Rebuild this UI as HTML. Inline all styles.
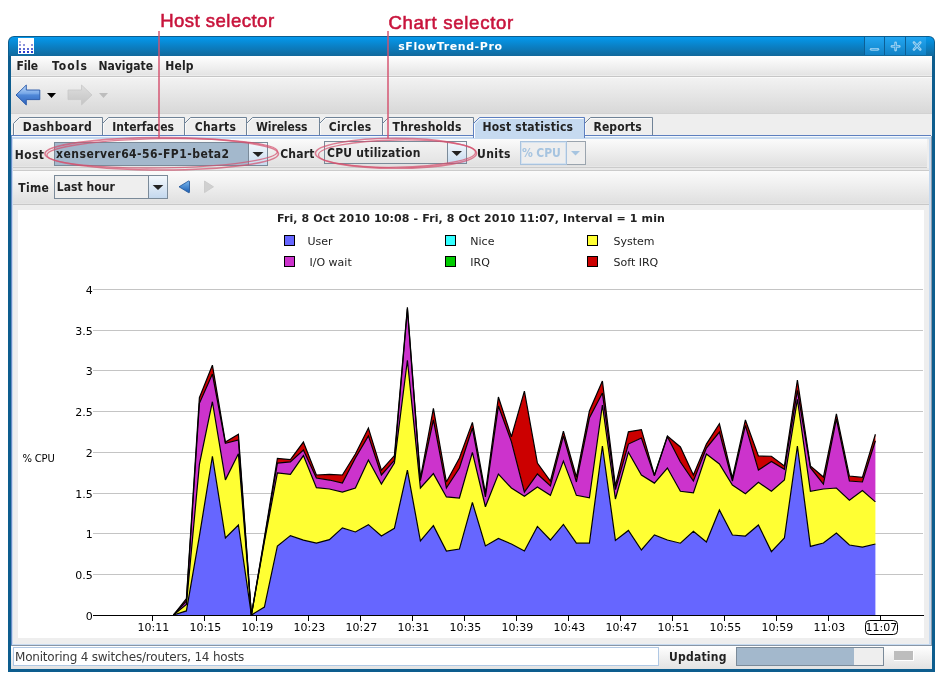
<!DOCTYPE html>
<html><head><meta charset="utf-8"><style>
*{margin:0;padding:0;box-sizing:border-box}
html,body{width:944px;height:680px;overflow:hidden;background:#fff}
body{position:relative;font-family:"DejaVu Sans","Liberation Sans",sans-serif}
.a{position:absolute}
.b{font-weight:bold;font-size:11px;color:#222;white-space:nowrap;line-height:13px}
.win{left:8px;top:36px;width:927px;height:636px;background:#0d5d8e;border-radius:6px 6px 0 0}
.title{left:9px;top:37px;width:925px;height:19px;border-radius:5px 5px 0 0;background:linear-gradient(#0499ed,#0a82c8 45%,#11699c)}
.content{left:11px;top:56px;width:921px;height:613px;background:#eeeeee}
.menubar{left:11px;top:56px;width:921px;height:19px;background:linear-gradient(#ffffff,#e4e4e4)}
.toolbar{left:11px;top:78px;width:921px;height:35px;background:linear-gradient(#f2f2f2,#d8d8d8)}
.tab{top:117px;height:19px;background:#eeeeee;border:1px solid #8a9cb4;border-bottom:none;clip-path:polygon(0 6px,6px 0,100% 0,100% 100%,0 100%)}
.tab span{position:absolute;top:3px}
.tabsel{background:#c8dcf2;border-color:#7e9ccc}
.panel{left:11px;top:135px;width:920px;height:510px;background:#c6daf0;border-top:1px solid #5d7fbf;border-left:1px solid #6a8cc6}
.row{background:linear-gradient(#fbfbfb,#e0e0e0)}
.combo{border:1px solid #7a8a99}
.chart{position:absolute;left:18px;top:210px}
</style></head><body>
<div id="root" style="position:absolute;left:0;top:0;width:944px;height:680px;will-change:transform">
<div class="a win"></div>
<div class="a title"></div>
<!-- app icon -->
<div class="a" style="left:18px;top:38px;width:16px;height:16px;background:#fff">
<svg width="16" height="16" style="position:absolute;left:0;top:0">
<g fill="#2b3fcf"><rect x="1" y="13" width="2" height="2"/><rect x="5" y="13" width="2" height="2"/><rect x="9" y="13" width="2" height="2"/><rect x="13" y="13" width="2" height="2"/></g>
<g fill="#5a6ad0"><rect x="1" y="10" width="2" height="2"/><rect x="5" y="10" width="2" height="2"/><rect x="9" y="10" width="2" height="2"/><rect x="13" y="10" width="2" height="2"/></g>
<g fill="#8e96dc"><rect x="1" y="6" width="2" height="2"/><rect x="5" y="6" width="2" height="2"/><rect x="13" y="6" width="2" height="2"/></g>
<g fill="#b8bce6"><rect x="1" y="3" width="2" height="2"/></g>
</svg></div>
<!-- title buttons -->
<div class="a" style="left:864px;top:37px;width:62px;height:18px;background:#0c5f95"></div>
<div class="a" style="left:865px;top:37px;width:19px;height:18px;background:linear-gradient(#22a6f2,#1282c6)"></div>
<div class="a" style="left:885px;top:37px;width:20px;height:18px;background:linear-gradient(#22a6f2,#1282c6)"></div>
<div class="a" style="left:906px;top:37px;width:20px;height:18px;background:linear-gradient(#22a6f2,#1282c6)"></div>
<svg class="a" style="left:864px;top:37px" width="62" height="18">
<g stroke="#98cff0" stroke-width="2.8" stroke-linecap="round" fill="none">
<line x1="7.2" y1="12.3" x2="13.8" y2="12.3"/>
<line x1="31.6" y1="5.8" x2="31.6" y2="13"/><line x1="28" y1="9.4" x2="35.2" y2="9.4"/>
<line x1="50" y1="5.6" x2="56.2" y2="12.4"/><line x1="56.2" y1="5.6" x2="50" y2="12.4"/>
</g>
<g stroke="#3aa2e4" stroke-width="0.9" stroke-linecap="round" fill="none">
<line x1="7.8" y1="12.3" x2="13.2" y2="12.3"/>
<line x1="31.6" y1="6.6" x2="31.6" y2="12.2"/><line x1="28.8" y1="9.4" x2="34.4" y2="9.4"/>
<line x1="50.6" y1="6.3" x2="55.6" y2="11.7"/><line x1="55.6" y1="6.3" x2="50.6" y2="11.7"/>
</g></svg>

<div class="a content"></div>
<div class="a menubar"></div>
<div class="a" style="left:11px;top:75px;width:921px;height:1px;background:#ececec"></div>
<div class="a" style="left:11px;top:76px;width:921px;height:1px;background:#c6c6c6"></div>
<div class="a" style="left:11px;top:77px;width:921px;height:1px;background:#fafafa"></div>
<div class="a toolbar"></div>
<div class="a" style="left:11px;top:113px;width:921px;height:1px;background:#d2d2d2"></div>
<!-- toolbar icons -->
<svg class="a" style="left:12px;top:80px" width="100" height="30">
<defs><linearGradient id="gb" x1="0" y1="0" x2="0" y2="1"><stop offset="0" stop-color="#c0dafa"/><stop offset="0.42" stop-color="#78a8e8"/><stop offset="0.5" stop-color="#5088d8"/><stop offset="1" stop-color="#2c62bc"/></linearGradient>
<linearGradient id="gg" x1="0" y1="0" x2="0" y2="1"><stop offset="0" stop-color="#dedede"/><stop offset="1" stop-color="#c4c4c4"/></linearGradient></defs>
<path d="M4 15 L14.3 5 L14.3 10 L27.8 10 L27.8 19.6 L14.3 19.6 L14.3 25 Z" fill="url(#gb)" stroke="#2456a8" stroke-width="0.9"/>
<path d="M35 13 L44 13 L39.5 18 Z" fill="#000"/>
<path d="M80 15 L69.5 5 L69.5 10 L56 10 L56 19.6 L69.5 19.6 L69.5 25 Z" fill="url(#gg)" stroke="#c8c8c8" stroke-width="0.8"/>
<path d="M87 13 L96 13 L91.5 18 Z" fill="#bdbdbd"/>
</svg>

<!-- tabs -->
<svg class="a" style="left:0;top:110px" width="700" height="32">
<path d="M13.5 25.5 V13.5 L19.5 7.5 H102.5 V25.5" fill="#eeeeee" stroke="#6f8296" stroke-width="1"/>
<path d="M14.5 25 V13.9 L19.9 8.5 H101.5" fill="none" stroke="#fafafa" stroke-width="1"/>
<path d="M102.5 25.5 V13.5 L108.5 7.5 H184.5 V25.5" fill="#eeeeee" stroke="#6f8296" stroke-width="1"/>
<path d="M103.5 25 V13.9 L108.9 8.5 H183.5" fill="none" stroke="#fafafa" stroke-width="1"/>
<path d="M184.5 25.5 V13.5 L190.5 7.5 H246.5 V25.5" fill="#eeeeee" stroke="#6f8296" stroke-width="1"/>
<path d="M185.5 25 V13.9 L190.9 8.5 H245.5" fill="none" stroke="#fafafa" stroke-width="1"/>
<path d="M246.5 25.5 V13.5 L252.5 7.5 H319.5 V25.5" fill="#eeeeee" stroke="#6f8296" stroke-width="1"/>
<path d="M247.5 25 V13.9 L252.9 8.5 H318.5" fill="none" stroke="#fafafa" stroke-width="1"/>
<path d="M319.5 25.5 V13.5 L325.5 7.5 H382.5 V25.5" fill="#eeeeee" stroke="#6f8296" stroke-width="1"/>
<path d="M320.5 25 V13.9 L325.9 8.5 H381.5" fill="none" stroke="#fafafa" stroke-width="1"/>
<path d="M382.5 25.5 V13.5 L388.5 7.5 H473.5 V25.5" fill="#eeeeee" stroke="#6f8296" stroke-width="1"/>
<path d="M383.5 25 V13.9 L388.9 8.5 H472.5" fill="none" stroke="#fafafa" stroke-width="1"/>
<path d="M584.5 25.5 V13.5 L590.5 7.5 H652.5 V25.5" fill="#eeeeee" stroke="#6f8296" stroke-width="1"/>
<path d="M585.5 25 V13.9 L590.9 8.5 H651.5" fill="none" stroke="#fafafa" stroke-width="1"/>
</svg>
<div class="a panel"></div>
<div class="a" style="left:12px;top:136px;width:919px;height:1px;background:#f4f8fc"></div>
<div class="a" style="left:13px;top:139px;width:916px;height:505px;background:#eeeeee"></div>
<svg class="a" style="left:0;top:110px" width="700" height="32">
<path d="M473.5 28 V13.5 L479.5 7.5 H584.5 V28" fill="#c6daf0" stroke="#5d7fbf" stroke-width="1"/>
<path d="M474.5 28 V13.9 L479.9 8.5 H583.5" fill="none" stroke="#ffffff" stroke-width="1"/>
</svg>
<!-- host row -->
<div class="a row" style="left:13px;top:139px;width:914px;height:27px"></div>
<div class="a" style="left:13px;top:166px;width:914px;height:1px;background:#e6e6e6"></div>
<div class="a" style="left:13px;top:167px;width:914px;height:1px;background:#cbcbcb"></div>
<div class="a" style="left:13px;top:168px;width:916px;height:2px;background:#e8e8e8"></div>
<div class="a" style="left:13px;top:170px;width:916px;height:1px;background:#cbcbcb"></div>
<div class="a row" style="left:13px;top:171px;width:916px;height:32px"></div>
<div class="a" style="left:13px;top:203px;width:916px;height:1px;background:#e4e4e4"></div>
<div class="a" style="left:13px;top:204px;width:916px;height:1px;background:#c8c8c8"></div>

<div class="a combo" style="left:54px;top:142px;width:214px;height:24px;background:#a3b8cc"></div>
<div class="a" style="left:248px;top:142px;width:1px;height:24px;background:#7a8a99"></div>
<div class="a" style="left:249px;top:143px;width:18px;height:22px;background:linear-gradient(#f4f8fc,#c8dcf0)"></div>
<svg class="a" style="left:249px;top:143px" width="18" height="22"><path d="M3.5 9 L14.5 9 L9 14 Z" fill="#222"/></svg>

<div class="a combo" style="left:324px;top:141px;width:143px;height:23px;background:linear-gradient(#f2f2f2,#e4e4e4)"></div>
<div class="a" style="left:447px;top:141px;width:1px;height:23px;background:#7a8a99"></div>
<div class="a" style="left:448px;top:142px;width:18px;height:21px;background:linear-gradient(#f4f8fc,#c8dcf0)"></div>
<svg class="a" style="left:448px;top:142px" width="18" height="22"><path d="M3.5 9 L14 9 L8.75 14 Z" fill="#222"/></svg>

<div class="a" style="left:520px;top:141px;width:66px;height:24px;border:1px solid #9aa4ae;background:#eeeeee"></div>
<div class="a" style="left:520px;top:141px;width:47px;height:24px;border:1px solid #a9c3de"></div>
<div class="a" style="left:521px;top:142px;width:45px;height:22px;border:1px solid #d4e2f0"></div>
<svg class="a" style="left:567px;top:142px" width="18" height="22"><path d="M4 9 L13 9 L8.5 13.5 Z" fill="#a6c4e0"/></svg>

<!-- time row -->
<div class="a combo" style="left:54px;top:175px;width:114px;height:24px;background:#eeeeee"></div>
<div class="a" style="left:148px;top:175px;width:1px;height:24px;background:#7a8a99"></div>
<div class="a" style="left:149px;top:176px;width:18px;height:22px;background:linear-gradient(#f4f8fc,#c4d8ee)"></div>
<svg class="a" style="left:149px;top:176px" width="18" height="22"><path d="M3.7 9 L14.3 9 L9 14 Z" fill="#222"/></svg>
<svg class="a" style="left:176px;top:179px" width="42" height="16">
<defs><linearGradient id="gt" x1="0" y1="0" x2="0" y2="1"><stop offset="0" stop-color="#7ab8f0"/><stop offset="1" stop-color="#1a5cb0"/></linearGradient></defs>
<path d="M3 7.8 L12.5 2 Q13.5 1.6 13.5 3 L13.5 12.8 Q13.5 14.2 12.5 13.6 Z" fill="url(#gt)" stroke="#1a4f94" stroke-width="0.8"/>
<path d="M37.5 7.8 L28.5 2 L28.5 13.6 Z" fill="#d0d0d0" stroke="#c8c8c8" stroke-width="0.8"/>
</svg>

<svg class="chart" width="906" height="428" viewBox="18 210 906 428">
<rect x="18" y="210" width="906" height="428" fill="#fff"/>
<rect x="93" y="289" width="830" height="1" fill="#c4c4c4"/><rect x="93" y="330" width="830" height="1" fill="#c4c4c4"/><rect x="93" y="370" width="830" height="1" fill="#c4c4c4"/><rect x="93" y="411" width="830" height="1" fill="#c4c4c4"/><rect x="93" y="452" width="830" height="1" fill="#c4c4c4"/><rect x="93" y="493" width="830" height="1" fill="#c4c4c4"/><rect x="93" y="533" width="830" height="1" fill="#c4c4c4"/><rect x="93" y="574" width="830" height="1" fill="#c4c4c4"/>
<g><polygon points="173.40,615.00 186.40,610.93 199.40,536.04 212.40,456.27 225.40,538.00 238.40,524.97 251.40,615.00 264.40,607.02 277.40,545.97 290.40,535.63 303.40,540.11 316.40,543.04 329.40,539.62 342.40,527.90 355.40,531.97 368.40,524.65 381.40,536.04 394.40,528.39 407.40,470.11 420.40,541.01 433.40,525.62 446.40,551.02 459.40,549.07 472.40,502.42 485.40,545.97 498.40,538.48 511.40,544.02 524.40,551.02 537.40,526.44 550.40,540.03 563.40,524.40 576.40,543.21 589.40,543.21 602.40,446.01 615.40,540.44 628.40,530.43 641.40,549.96 654.40,534.98 667.40,540.03 680.40,543.21 693.40,531.40 706.40,541.98 719.40,509.99 732.40,534.98 745.40,536.04 758.40,524.97 771.40,551.59 784.40,538.00 797.40,446.01 810.40,546.38 823.40,543.04 836.40,533.03 849.40,545.00 862.40,547.03 875.40,544.02 875.40,615.00 862.40,615.00 849.40,615.00 836.40,615.00 823.40,615.00 810.40,615.00 797.40,615.00 784.40,615.00 771.40,615.00 758.40,615.00 745.40,615.00 732.40,615.00 719.40,615.00 706.40,615.00 693.40,615.00 680.40,615.00 667.40,615.00 654.40,615.00 641.40,615.00 628.40,615.00 615.40,615.00 602.40,615.00 589.40,615.00 576.40,615.00 563.40,615.00 550.40,615.00 537.40,615.00 524.40,615.00 511.40,615.00 498.40,615.00 485.40,615.00 472.40,615.00 459.40,615.00 446.40,615.00 433.40,615.00 420.40,615.00 407.40,615.00 394.40,615.00 381.40,615.00 368.40,615.00 355.40,615.00 342.40,615.00 329.40,615.00 316.40,615.00 303.40,615.00 290.40,615.00 277.40,615.00 264.40,615.00 251.40,615.00 238.40,615.00 225.40,615.00 212.40,615.00 199.40,615.00 186.40,615.00 173.40,615.00" fill="#6666ff"/><polygon points="173.40,615.00 186.40,604.42 199.40,464.41 212.40,401.73 225.40,479.88 238.40,453.83 251.40,615.00 264.40,541.74 277.40,472.96 290.40,474.42 303.40,455.62 316.40,487.61 329.40,488.99 342.40,492.09 355.40,488.02 368.40,460.01 381.40,483.95 394.40,463.03 407.40,360.22 420.40,488.02 433.40,473.61 446.40,496.97 459.40,498.03 472.40,452.36 485.40,506.74 498.40,474.02 511.40,488.02 524.40,496.16 537.40,487.04 550.40,495.34 563.40,461.15 576.40,495.34 589.40,497.78 602.40,404.99 615.40,499.00 628.40,452.20 641.40,474.99 654.40,483.13 667.40,467.99 680.40,491.27 693.40,492.90 706.40,453.99 719.40,464.00 732.40,485.00 745.40,493.71 758.40,482.32 771.40,491.27 784.40,480.04 797.40,399.29 810.40,491.27 823.40,488.99 836.40,488.02 849.40,500.23 862.40,490.46 875.40,501.85 875.40,544.02 862.40,547.03 849.40,545.00 836.40,533.03 823.40,543.04 810.40,546.38 797.40,446.01 784.40,538.00 771.40,551.59 758.40,524.97 745.40,536.04 732.40,534.98 719.40,509.99 706.40,541.98 693.40,531.40 680.40,543.21 667.40,540.03 654.40,534.98 641.40,549.96 628.40,530.43 615.40,540.44 602.40,446.01 589.40,543.21 576.40,543.21 563.40,524.40 550.40,540.03 537.40,526.44 524.40,551.02 511.40,544.02 498.40,538.48 485.40,545.97 472.40,502.42 459.40,549.07 446.40,551.02 433.40,525.62 420.40,541.01 407.40,470.11 394.40,528.39 381.40,536.04 368.40,524.65 355.40,531.97 342.40,527.90 329.40,539.62 316.40,543.04 303.40,540.11 290.40,535.63 277.40,545.97 264.40,607.02 251.40,615.00 238.40,524.97 225.40,538.00 212.40,456.27 199.40,536.04 186.40,610.93 173.40,615.00" fill="#ffff33"/><polygon points="173.40,615.00 186.40,601.16 199.40,403.36 212.40,374.06 225.40,443.25 238.40,439.99 251.40,615.00 264.40,539.30 277.40,463.03 290.40,461.97 303.40,450.00 316.40,478.00 329.40,480.04 342.40,483.13 355.40,457.98 368.40,435.92 381.40,474.99 394.40,460.34 407.40,308.94 420.40,480.69 433.40,419.97 446.40,488.02 459.40,467.99 472.40,428.02 485.40,496.97 498.40,406.05 511.40,441.62 524.40,492.09 537.40,474.02 550.40,485.98 563.40,435.92 576.40,481.99 589.40,418.01 602.40,393.02 615.40,489.64 628.40,444.06 641.40,438.04 654.40,475.81 667.40,436.73 680.40,461.97 693.40,481.02 706.40,448.13 719.40,432.01 732.40,481.02 745.40,425.34 758.40,470.11 771.40,461.56 784.40,469.29 797.40,390.34 810.40,467.67 823.40,484.03 836.40,418.83 849.40,481.02 862.40,481.99 875.40,440.80 875.40,501.85 862.40,490.46 849.40,500.23 836.40,488.02 823.40,488.99 810.40,491.27 797.40,399.29 784.40,480.04 771.40,491.27 758.40,482.32 745.40,493.71 732.40,485.00 719.40,464.00 706.40,453.99 693.40,492.90 680.40,491.27 667.40,467.99 654.40,483.13 641.40,474.99 628.40,452.20 615.40,499.00 602.40,404.99 589.40,497.78 576.40,495.34 563.40,461.15 550.40,495.34 537.40,487.04 524.40,496.16 511.40,488.02 498.40,474.02 485.40,506.74 472.40,452.36 459.40,498.03 446.40,496.97 433.40,473.61 420.40,488.02 407.40,360.22 394.40,463.03 381.40,483.95 368.40,460.01 355.40,488.02 342.40,492.09 329.40,488.99 316.40,487.61 303.40,455.62 290.40,474.42 277.40,472.96 264.40,541.74 251.40,615.00 238.40,453.83 225.40,479.88 212.40,401.73 199.40,464.41 186.40,604.42 173.40,615.00" fill="#cc33cc"/><polygon points="173.40,615.00 186.40,598.72 199.40,397.66 212.40,365.10 225.40,442.02 238.40,434.29 251.40,615.00 264.40,537.67 277.40,458.39 290.40,459.53 303.40,442.02 316.40,474.99 329.40,474.42 342.40,474.99 355.40,453.99 368.40,428.02 381.40,470.11 394.40,455.62 407.40,307.31 420.40,478.25 433.40,408.41 446.40,481.99 459.40,457.98 472.40,422.41 485.40,492.90 498.40,397.01 511.40,436.73 524.40,391.15 537.40,463.03 550.40,481.02 563.40,431.04 576.40,477.03 589.40,411.01 602.40,380.98 615.40,485.98 628.40,431.85 641.40,429.57 654.40,474.99 667.40,435.92 680.40,446.99 693.40,474.99 706.40,444.06 719.40,423.71 732.40,478.00 745.40,419.97 758.40,456.03 771.40,456.27 784.40,466.04 797.40,380.00 810.40,466.04 823.40,477.03 836.40,413.94 849.40,476.05 862.40,477.43 875.40,434.29 875.40,440.80 862.40,481.99 849.40,481.02 836.40,418.83 823.40,484.03 810.40,467.67 797.40,390.34 784.40,469.29 771.40,461.56 758.40,470.11 745.40,425.34 732.40,481.02 719.40,432.01 706.40,448.13 693.40,481.02 680.40,461.97 667.40,436.73 654.40,475.81 641.40,438.04 628.40,444.06 615.40,489.64 602.40,393.02 589.40,418.01 576.40,481.99 563.40,435.92 550.40,485.98 537.40,474.02 524.40,492.09 511.40,441.62 498.40,406.05 485.40,496.97 472.40,428.02 459.40,467.99 446.40,488.02 433.40,419.97 420.40,480.69 407.40,308.94 394.40,460.34 381.40,474.99 368.40,435.92 355.40,457.98 342.40,483.13 329.40,480.04 316.40,478.00 303.40,450.00 290.40,461.97 277.40,463.03 264.40,539.30 251.40,615.00 238.40,439.99 225.40,443.25 212.40,374.06 199.40,403.36 186.40,601.16 173.40,615.00" fill="#cc0000"/></g>
<g><polyline points="173.40,615.00 186.40,610.93 199.40,536.04 212.40,456.27 225.40,538.00 238.40,524.97 251.40,615.00 264.40,607.02 277.40,545.97 290.40,535.63 303.40,540.11 316.40,543.04 329.40,539.62 342.40,527.90 355.40,531.97 368.40,524.65 381.40,536.04 394.40,528.39 407.40,470.11 420.40,541.01 433.40,525.62 446.40,551.02 459.40,549.07 472.40,502.42 485.40,545.97 498.40,538.48 511.40,544.02 524.40,551.02 537.40,526.44 550.40,540.03 563.40,524.40 576.40,543.21 589.40,543.21 602.40,446.01 615.40,540.44 628.40,530.43 641.40,549.96 654.40,534.98 667.40,540.03 680.40,543.21 693.40,531.40 706.40,541.98 719.40,509.99 732.40,534.98 745.40,536.04 758.40,524.97 771.40,551.59 784.40,538.00 797.40,446.01 810.40,546.38 823.40,543.04 836.40,533.03 849.40,545.00 862.40,547.03 875.40,544.02" fill="none" stroke="#000" stroke-width="1.2" stroke-linejoin="miter" stroke-miterlimit="3"/><polyline points="173.40,615.00 186.40,604.42 199.40,464.41 212.40,401.73 225.40,479.88 238.40,453.83 251.40,615.00 264.40,541.74 277.40,472.96 290.40,474.42 303.40,455.62 316.40,487.61 329.40,488.99 342.40,492.09 355.40,488.02 368.40,460.01 381.40,483.95 394.40,463.03 407.40,360.22 420.40,488.02 433.40,473.61 446.40,496.97 459.40,498.03 472.40,452.36 485.40,506.74 498.40,474.02 511.40,488.02 524.40,496.16 537.40,487.04 550.40,495.34 563.40,461.15 576.40,495.34 589.40,497.78 602.40,404.99 615.40,499.00 628.40,452.20 641.40,474.99 654.40,483.13 667.40,467.99 680.40,491.27 693.40,492.90 706.40,453.99 719.40,464.00 732.40,485.00 745.40,493.71 758.40,482.32 771.40,491.27 784.40,480.04 797.40,399.29 810.40,491.27 823.40,488.99 836.40,488.02 849.40,500.23 862.40,490.46 875.40,501.85" fill="none" stroke="#000" stroke-width="1.2" stroke-linejoin="miter" stroke-miterlimit="3"/><polyline points="173.40,615.00 186.40,601.16 199.40,403.36 212.40,374.06 225.40,443.25 238.40,439.99 251.40,615.00 264.40,539.30 277.40,463.03 290.40,461.97 303.40,450.00 316.40,478.00 329.40,480.04 342.40,483.13 355.40,457.98 368.40,435.92 381.40,474.99 394.40,460.34 407.40,308.94 420.40,480.69 433.40,419.97 446.40,488.02 459.40,467.99 472.40,428.02 485.40,496.97 498.40,406.05 511.40,441.62 524.40,492.09 537.40,474.02 550.40,485.98 563.40,435.92 576.40,481.99 589.40,418.01 602.40,393.02 615.40,489.64 628.40,444.06 641.40,438.04 654.40,475.81 667.40,436.73 680.40,461.97 693.40,481.02 706.40,448.13 719.40,432.01 732.40,481.02 745.40,425.34 758.40,470.11 771.40,461.56 784.40,469.29 797.40,390.34 810.40,467.67 823.40,484.03 836.40,418.83 849.40,481.02 862.40,481.99 875.40,440.80" fill="none" stroke="#000" stroke-width="1.2" stroke-linejoin="miter" stroke-miterlimit="3"/><polyline points="173.40,615.00 186.40,598.72 199.40,397.66 212.40,365.10 225.40,442.02 238.40,434.29 251.40,615.00 264.40,537.67 277.40,458.39 290.40,459.53 303.40,442.02 316.40,474.99 329.40,474.42 342.40,474.99 355.40,453.99 368.40,428.02 381.40,470.11 394.40,455.62 407.40,307.31 420.40,478.25 433.40,408.41 446.40,481.99 459.40,457.98 472.40,422.41 485.40,492.90 498.40,397.01 511.40,436.73 524.40,391.15 537.40,463.03 550.40,481.02 563.40,431.04 576.40,477.03 589.40,411.01 602.40,380.98 615.40,485.98 628.40,431.85 641.40,429.57 654.40,474.99 667.40,435.92 680.40,446.99 693.40,474.99 706.40,444.06 719.40,423.71 732.40,478.00 745.40,419.97 758.40,456.03 771.40,456.27 784.40,466.04 797.40,380.00 810.40,466.04 823.40,477.03 836.40,413.94 849.40,476.05 862.40,477.43 875.40,434.29" fill="none" stroke="#000" stroke-width="1.2" stroke-linejoin="miter" stroke-miterlimit="3"/></g>
<rect x="93" y="615" width="831" height="1" fill="#000"/>
<rect x="152" y="616" width="1" height="5" fill="#000"/><rect x="204" y="616" width="1" height="5" fill="#000"/><rect x="256" y="616" width="1" height="5" fill="#000"/><rect x="308" y="616" width="1" height="5" fill="#000"/><rect x="360" y="616" width="1" height="5" fill="#000"/><rect x="412" y="616" width="1" height="5" fill="#000"/><rect x="464" y="616" width="1" height="5" fill="#000"/><rect x="516" y="616" width="1" height="5" fill="#000"/><rect x="568" y="616" width="1" height="5" fill="#000"/><rect x="620" y="616" width="1" height="5" fill="#000"/><rect x="672" y="616" width="1" height="5" fill="#000"/><rect x="724" y="616" width="1" height="5" fill="#000"/><rect x="776" y="616" width="1" height="5" fill="#000"/><rect x="828" y="616" width="1" height="5" fill="#000"/><rect x="880" y="616" width="1" height="5" fill="#000"/>
<g font-family="DejaVu Sans" font-size="11" fill="#000"><text x="92.8" y="293.5" text-anchor="end">4</text><text x="92.8" y="334.5" text-anchor="end">3.5</text><text x="92.8" y="374.5" text-anchor="end">3</text><text x="92.8" y="415.5" text-anchor="end">2.5</text><text x="92.8" y="456.5" text-anchor="end">2</text><text x="92.8" y="497.5" text-anchor="end">1.5</text><text x="92.8" y="537.5" text-anchor="end">1</text><text x="92.8" y="578.5" text-anchor="end">0.5</text><text x="92.8" y="619.5" text-anchor="end">0</text><text x="153.3" y="631" text-anchor="middle">10:11</text><text x="205.3" y="631" text-anchor="middle">10:15</text><text x="257.3" y="631" text-anchor="middle">10:19</text><text x="309.3" y="631" text-anchor="middle">10:23</text><text x="361.3" y="631" text-anchor="middle">10:27</text><text x="413.3" y="631" text-anchor="middle">10:31</text><text x="465.3" y="631" text-anchor="middle">10:35</text><text x="517.3" y="631" text-anchor="middle">10:39</text><text x="569.3" y="631" text-anchor="middle">10:43</text><text x="621.3" y="631" text-anchor="middle">10:47</text><text x="673.3" y="631" text-anchor="middle">10:51</text><text x="725.3" y="631" text-anchor="middle">10:55</text><text x="777.3" y="631" text-anchor="middle">10:59</text><text x="829.3" y="631" text-anchor="middle">11:03</text><text x="881.3" y="631" text-anchor="middle">11:07</text></g>
<rect x="865.5" y="620.5" width="32" height="14" rx="4" fill="none" stroke="#000" stroke-width="1"/>
<text x="22.5" y="461.5" font-family="DejaVu Sans" font-size="10" fill="#000" letter-spacing="-0.2">% CPU</text>
<text x="471" y="221.5" font-family="DejaVu Sans" font-size="11" font-weight="bold" text-anchor="middle" fill="#222" letter-spacing="0.13">Fri, 8 Oct 2010 10:08 - Fri, 8 Oct 2010 11:07, Interval = 1 min</text>
<g font-family="DejaVu Sans" font-size="11" fill="#222">
<rect x="284.5" y="235.5" width="10" height="10" fill="#6666ff" stroke="#000"/><text x="307.5" y="245">User</text>
<rect x="284.5" y="256.5" width="10" height="10" fill="#cc33cc" stroke="#000"/><text x="309.5" y="266">I/O wait</text>
<rect x="445.5" y="235.5" width="10" height="10" fill="#33ffff" stroke="#000"/><text x="470.3" y="245">Nice</text>
<rect x="445.5" y="256.5" width="10" height="10" fill="#00cc00" stroke="#000"/><text x="470.3" y="266">IRQ</text>
<rect x="587.5" y="235.5" width="10" height="10" fill="#ffff33" stroke="#000"/><text x="613.5" y="245">System</text>
<rect x="587.5" y="256.5" width="10" height="10" fill="#cc0000" stroke="#000"/><text x="613.5" y="266">Soft IRQ</text>
</g>
</svg>
<div class="a" style="left:931px;top:136px;width:1px;height:509px;background:#8d9bab"></div>

<!-- status bar -->
<div class="a" style="left:11px;top:645px;width:921px;height:1px;background:#8896a6"></div>
<div class="a" style="left:11px;top:646px;width:921px;height:23px;background:linear-gradient(#ffffff,#e2e2e2)"></div>
<div class="a" style="left:13px;top:647px;width:646px;height:19px;border:1px solid #b0c8e4;background:#fff"></div>
<div class="a" style="left:15px;top:650px;font:12px 'DejaVu Sans';color:#3a3a3a;letter-spacing:-0.21px;line-height:14px;white-space:nowrap">Monitoring 4 switches/routers, 14 hosts</div>
<div class="a" style="left:736px;top:647px;width:148px;height:19px;border:1px solid #7a8a99;background:#eeeeee"></div>
<div class="a" style="left:737px;top:648px;width:117px;height:17px;background:#a3b8cc"></div>
<div class="a" style="left:894px;top:651px;width:20px;height:10px;background:#bdbdbd;border-right:1px solid #fff;border-bottom:1px solid #fff"></div>

<svg class="a" style="left:0;top:0" width="944" height="680"><g font-family="DejaVu Sans Condensed" font-weight="bold" font-size="12" fill="#222">
<text x="16.60" y="70" letter-spacing="-0.167">File</text>
<text x="52.00" y="70" letter-spacing="1.050">Tools</text>
<text x="98.50" y="70" letter-spacing="0.000">Navigate</text>
<text x="165.30" y="70" letter-spacing="0.167">Help</text>
<text x="22.80" y="131" letter-spacing="0.375">Dashboard</text>
<text x="112.30" y="131" letter-spacing="0.000">Interfaces</text>
<text x="194.70" y="131" letter-spacing="0.280">Charts</text>
<text x="256.00" y="131" letter-spacing="-0.100">Wireless</text>
<text x="328.80" y="131" letter-spacing="0.283">Circles</text>
<text x="392.60" y="131" letter-spacing="0.189">Thresholds</text>
<text x="482.50" y="131" letter-spacing="0.200">Host statistics</text>
<text x="593.50" y="131" letter-spacing="0.100">Reports</text>
<text x="14.80" y="159" letter-spacing="0.333">Host</text>
<text x="56.10" y="158" letter-spacing="0.478">xenserver64-56-FP1-beta2</text>
<text x="280.20" y="158" letter-spacing="0.200">Chart</text>
<text x="327.00" y="157" letter-spacing="0.250">CPU utilization</text>
<text x="477.00" y="158" letter-spacing="0.425">Units</text>
<text x="521.90" y="157" letter-spacing="-0.075" fill="#a6c4e0">% CPU</text>
<text x="18.30" y="192" letter-spacing="0.267">Time</text>
<text x="56.80" y="191" letter-spacing="0.062">Last hour</text>
<text x="668.90" y="661" letter-spacing="0.257">Updating</text>
</g><text x="398.2" y="50" font-family="DejaVu Sans" font-weight="bold" font-size="11" fill="#fff" letter-spacing="0.6">sFlowTrend-Pro</text></svg>
<!-- annotations -->
<svg class="a" style="left:0;top:0" width="944" height="680">
<g fill="#c8143c" stroke="#c8143c" stroke-width="0.55" font-family="Liberation Sans" font-size="18.6">
<text x="160.2" y="27" letter-spacing="0.45">Host selector</text>
<text x="388.4" y="28.5" letter-spacing="0.7">Chart selector</text>
</g>
<g stroke="#d4506e" stroke-opacity="0.72" fill="none" stroke-width="1.6">
<line x1="159" y1="31" x2="159" y2="138.5" stroke-width="2"/>
<line x1="388" y1="31" x2="388" y2="138.5" stroke-width="2"/>
<ellipse cx="161.7" cy="153.8" rx="116.8" ry="16.2"/>
<ellipse cx="162.2" cy="153.3" rx="115.3" ry="14.6" transform="rotate(-0.9 162.2 153.3)" stroke-width="1.3"/>
<ellipse cx="396" cy="153.3" rx="80.6" ry="15"/>
<ellipse cx="397" cy="153.6" rx="78.5" ry="13.6" transform="rotate(-1 397 153.6)" stroke-width="1.3"/>
</g>
</svg>
</div>
</body></html>
